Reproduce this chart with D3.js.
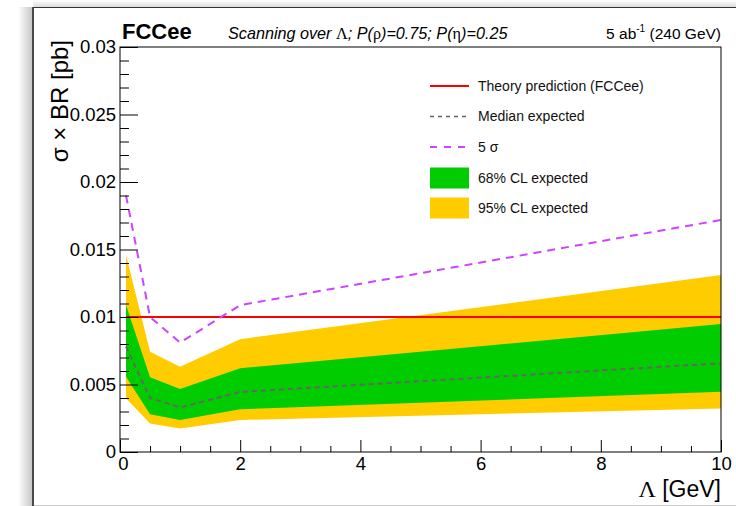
<!DOCTYPE html>
<html>
<head>
<meta charset="utf-8">
<script src="https://cdn.jsdelivr.net/npm/d3@7"></script>
<style>
  html, body { margin: 0; padding: 0; background: #ffffff; }
  svg { display: block; font-family: "Liberation Sans", Arial, Helvetica, sans-serif; }
</style>
</head>
<body>
<svg id="chart" width="736" height="506"></svg>
<script>
// ---------------- data ----------------
const lambdaGeV   = [0.1, 0.5, 1, 2, 10];
const medianExp   = [0.0078, 0.0040, 0.0033, 0.00445, 0.00657];
const band68Low   = [0.00558, 0.00279, 0.00237, 0.00316, 0.00447];
const band68High  = [0.01089, 0.00553, 0.00467, 0.0062, 0.00948];
const band95Low   = [0.00398, 0.00212, 0.00175, 0.00237, 0.00323];
const band95High  = [0.01459, 0.00743, 0.00632, 0.00836, 0.01311];
const fiveSigma   = [0.0190, 0.0100, 0.0081, 0.01088, 0.01719];
const theoryValue = 0.01;

const xMajorTicks = [0, 2, 4, 6, 8, 10];
const xMinorTicks = [0.5, 1, 1.5, 2.5, 3, 3.5, 4.5, 5, 5.5, 6.5, 7, 7.5, 8.5, 9, 9.5];
const yMajorTicks = [0, 0.005, 0.01, 0.015, 0.02, 0.025, 0.03];
const yTickLabels = ["0", "0.005", "0.01", "0.015", "0.02", "0.025", "0.03"];
const yMinorTicks = d3.range(1, 30).filter(i => i % 5 !== 0).map(i => i / 1000);

const legendLabels = ["Theory prediction (FCCee)", "Median expected", "5 \u03C3", "68% CL expected", "95% CL expected"];

// ---------------- layout ----------------
const svg = d3.select("#chart");
const X0 = 120, X1 = 721, Y0 = 452, Y1 = 47;
const x = d3.scaleLinear().domain([0, 10]).range([X0, X1]);
const y = d3.scaleLinear().domain([0, 0.03]).range([Y0, Y1]);

const colYellow = "#ffcc00", colGreen = "#00cc00", colRed = "#ff0000",
      colViolet = "#cc44ff", colGray = "#666666";
const serif = "Liberation Serif, Times New Roman, serif";

// canvas window frame with soft shadow
const defs = svg.append("defs");
const gl = defs.append("linearGradient").attr("id", "shadowL").attr("x1", "0").attr("x2", "1");
gl.append("stop").attr("offset", "0").attr("stop-color", "#ffffff");
gl.append("stop").attr("offset", "1").attr("stop-color", "#c8c8c8");
const gt = defs.append("linearGradient").attr("id", "shadowT").attr("x1", "0").attr("x2", "0").attr("y1", "0").attr("y2", "1");
gt.append("stop").attr("offset", "0").attr("stop-color", "#ffffff");
gt.append("stop").attr("offset", "1").attr("stop-color", "#dddddd");
svg.append("rect").attr("x", 18).attr("y", 7).attr("width", 14).attr("height", 499).attr("fill", "url(#shadowL)");
svg.append("rect").attr("x", 33).attr("y", 0).attr("width", 703).attr("height", 7).attr("fill", "url(#shadowT)");
svg.append("line").attr("x1", 33).attr("x2", 736).attr("y1", 7.5).attr("y2", 7.5).attr("stroke", "#333").attr("stroke-width", 1);
svg.append("line").attr("x1", 33).attr("x2", 33).attr("y1", 7).attr("y2", 506).attr("stroke", "#4a4a4a").attr("stroke-width", 2);
svg.append("line").attr("x1", 34).attr("x2", 736).attr("y1", 505.5).attr("y2", 505.5).attr("stroke", "#c8c8c8").attr("stroke-width", 1);

// ---------------- bands ----------------
const idx = d3.range(lambdaGeV.length);
const area = (lo, hi) => d3.area().x(i => x(lambdaGeV[i])).y0(i => y(lo[i])).y1(i => y(hi[i]))(idx);
const line = (vals) => d3.line().x(i => x(lambdaGeV[i])).y(i => y(vals[i]))(idx);

const plot = svg.append("g");
plot.append("path").attr("d", area(band95Low, band95High)).attr("fill", colYellow);
plot.append("path").attr("d", area(band68Low, band68High)).attr("fill", colGreen);
plot.append("path").attr("d", line(medianExp)).attr("fill", "none")
  .attr("stroke", colGray).attr("stroke-width", 2).attr("stroke-dasharray", "5,4");
plot.append("path").attr("d", line(lambdaGeV.map(() => theoryValue))).attr("fill", "none")
  .attr("stroke", colRed).attr("stroke-width", 2);
plot.append("path").attr("d", line(fiveSigma)).attr("fill", "none")
  .attr("stroke", colViolet).attr("stroke-width", 2).attr("stroke-dasharray", "8,6");

// ---------------- frame & axes ----------------
svg.append("rect").attr("x", X0).attr("y", Y1).attr("width", X1 - X0).attr("height", Y0 - Y1)
  .attr("fill", "none").attr("stroke", "#000").attr("stroke-width", 1);

const tickFont = 18.5;
svg.append("g").attr("transform", `translate(${X0},0)`)
  .call(d3.axisLeft(y).tickValues(yMajorTicks).tickSize(-18).tickPadding(4)
    .tickFormat((d, i) => yTickLabels[i]));
svg.append("g").attr("transform", `translate(${X0},0)`)
  .call(d3.axisLeft(y).tickValues(yMinorTicks).tickSize(-9).tickFormat(""));
const xAxis = svg.append("g").attr("transform", `translate(0,${Y0})`)
  .call(d3.axisBottom(x).tickValues(xMajorTicks).tickSize(-12).tickPadding(5)
    .tickFormat(d3.format("d")));
svg.append("g").attr("transform", `translate(0,${Y0})`)
  .call(d3.axisBottom(x).tickValues(xMinorTicks).tickSize(-6).tickFormat(""));

svg.selectAll(".domain").remove();
svg.selectAll(".tick line").attr("stroke", "#000").attr("stroke-width", 1);
svg.selectAll(".tick text").attr("font-size", tickFont).attr("fill", "#000")
  .attr("font-family", "Liberation Sans, Arial, sans-serif");
xAxis.selectAll(".tick text").attr("dx", (d) => d === 0 ? "0.15em" : 0);

// axis titles
svg.append("text").attr("transform", "translate(68,40) rotate(-90)")
  .attr("text-anchor", "end").attr("font-size", 24).text("\u03C3 \u00D7 BR [pb]");
const xt = svg.append("text").attr("x", X1).attr("y", 497).attr("text-anchor", "end").attr("font-size", 23);
xt.append("tspan").attr("font-family", serif).attr("font-size", 24).text("\u039B");
xt.append("tspan").text(" [GeV]");

// header
svg.append("text").attr("x", 122).attr("y", 39).attr("font-size", 22).attr("font-weight", "bold").text("FCCee");
const scan = svg.append("text").attr("x", 228).attr("y", 39).attr("font-size", 16.2).attr("font-style", "italic");
scan.append("tspan").text("Scanning over  ");
scan.append("tspan").attr("font-family", serif).attr("font-style", "normal").text("\u039B");
scan.append("tspan").text("; P(");
scan.append("tspan").attr("font-family", serif).attr("font-style", "normal").text("\u03C1");
scan.append("tspan").text(")=0.75; P(");
scan.append("tspan").attr("font-family", serif).attr("font-style", "normal").text("\u03B7");
scan.append("tspan").text(")=0.25");
const lumi = svg.append("text").attr("x", X1).attr("y", 39).attr("font-size", 15.5).attr("text-anchor", "end");
lumi.append("tspan").text("5 ab");
lumi.append("tspan").attr("font-size", 10).attr("dy", -7).text("-1");
lumi.append("tspan").attr("dy", 7).text(" (240 GeV)");

// ---------------- legend ----------------
const legY = [86, 116.5, 147, 178, 208];
const leg = svg.append("g");
const lx0 = 430, lx1 = 469, ltx = 478;
leg.append("line").attr("x1", lx0).attr("x2", lx1).attr("y1", legY[0]).attr("y2", legY[0])
  .attr("stroke", colRed).attr("stroke-width", 2);
leg.append("line").attr("x1", lx0).attr("x2", lx1).attr("y1", legY[1]).attr("y2", legY[1])
  .attr("stroke", colGray).attr("stroke-width", 1.5).attr("stroke-dasharray", "4,4");
leg.append("line").attr("x1", lx0).attr("x2", lx1).attr("y1", legY[2]).attr("y2", legY[2])
  .attr("stroke", colViolet).attr("stroke-width", 2).attr("stroke-dasharray", "7,7");
leg.append("rect").attr("x", lx0).attr("y", legY[3] - 10.5).attr("width", lx1 - lx0).attr("height", 21).attr("fill", colGreen);
leg.append("rect").attr("x", lx0).attr("y", legY[4] - 10.5).attr("width", lx1 - lx0).attr("height", 21).attr("fill", colYellow);
leg.selectAll("text.lg").data(legendLabels).enter().append("text").attr("class", "lg")
  .attr("x", ltx).attr("y", (d, i) => legY[i]).attr("dy", "0.35em")
  .attr("font-size", 14).attr("fill", "#111").text(d => d);
</script>
</body>
</html>
